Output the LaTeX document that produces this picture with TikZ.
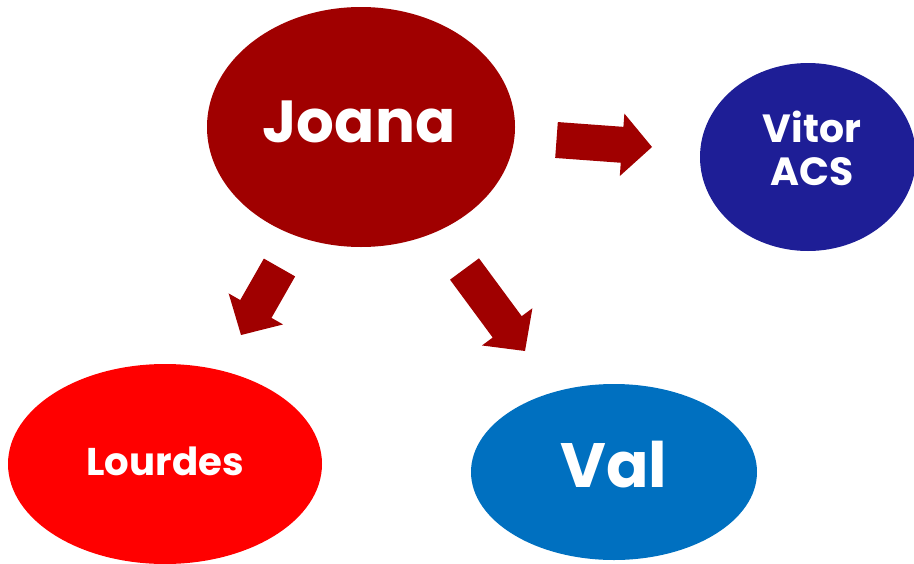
\documentclass[tikz,border=0pt]{standalone}
\usepackage{fontspec}
\setmainfont{Poppins}
\usetikzlibrary{shapes.geometric,calc}
\definecolor{darkred}{RGB}{160,0,0}
\definecolor{navy}{RGB}{30,30,150}
\definecolor{brightred}{RGB}{255,0,0}
\definecolor{midblue}{RGB}{0,112,192}
\tikzset{
  bubble/.style={ellipse, draw=none, inner sep=0pt},
  nametext/.style={text=white, anchor=base, inner sep=0pt, align=center},
  arrowfill/.style={fill=darkred}
}
\newcommand\blockarrow[2]{%
  \coordinate (ba-h) at ($(#2)!22.5pt!(#1)$);
  \fill[arrowfill] ($(#1)!13.5pt!90:(#2)$) -- ($(ba-h)!13.5pt!-90:(#1)$)
    -- ($(ba-h)!23.5pt!-90:(#1)$) -- (#2) -- ($(ba-h)!23.5pt!90:(#1)$)
    -- ($(ba-h)!13.5pt!90:(#1)$) -- ($(#1)!13.5pt!-90:(#2)$) -- cycle;}
\begin{document}
\begin{tikzpicture}[x=0.75pt,y=-0.75pt]
\useasboundingbox (0,0) rectangle (914,564);
\node[bubble, fill=darkred, minimum width=231pt, minimum height=180pt] (joana) at (361,127) {};
\node[bubble, fill=navy, minimum width=162pt, minimum height=141pt] (vitor) at (808,157) {};
\node[bubble, fill=brightred, minimum width=235.5pt, minimum height=150pt] (lourdes) at (165,464) {};
\node[bubble, fill=midblue, minimum width=214.5pt, minimum height=132pt] (val) at (614,472) {};

\node[nametext, font=\bfseries\fontsize{44.5}{45}\selectfont] (joanat) at (359,142) {Joana};
\node[nametext, font=\bfseries\fontsize{29.5}{32}\selectfont] (vitort) at (812,142) {Vitor};
\node[nametext, font=\bfseries\fontsize{29.5}{32}\selectfont] (acst) at (812,185) {ACS};
\node[nametext, font=\bfseries\fontsize{29}{29}\selectfont] (lourdest) at (165,475) {Lourdes};
\node[nametext, font=\bfseries\fontsize{47}{47}\selectfont] (valt) at (614,487) {Val};

\coordinate (a1s) at (556.5,140);
\coordinate (a1e) at (652,147);
\coordinate (a2s) at (279.5,267.5);
\coordinate (a2e) at (241,335);
\coordinate (a3s) at (464.5,269);
\coordinate (a3e) at (525,351);
\blockarrow{a1s}{a1e}
\blockarrow{a2s}{a2e}
\blockarrow{a3s}{a3e}
\end{tikzpicture}
\end{document}
